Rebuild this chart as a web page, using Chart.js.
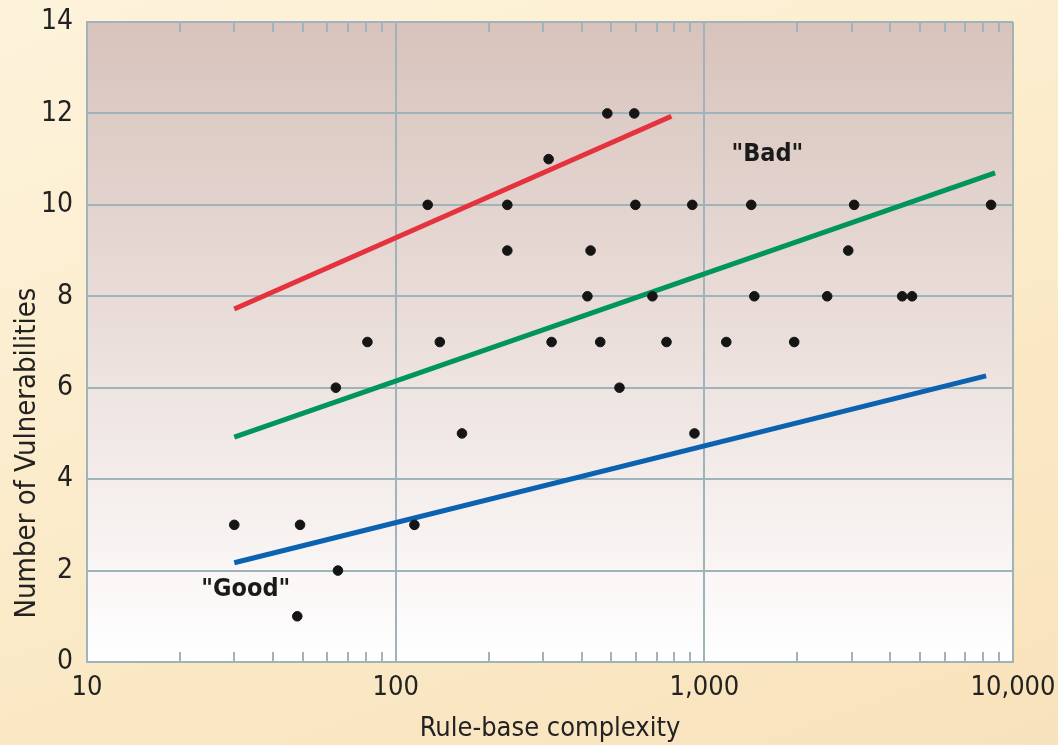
<!DOCTYPE html>
<html><head><meta charset="utf-8">
<script src="https://cdn.jsdelivr.net/npm/chart.js@4.4.0/dist/chart.umd.min.js"></script>
<style>
html,body{margin:0;padding:0;}
#wrap{width:1058px;height:745px;background:linear-gradient(160deg,#fdf3db 0%,#fbeac8 55%,#f8e2bb 100%);}
canvas{display:block;}
</style>
</head><body><div id="wrap"><canvas id="c" width="1058" height="745"></canvas></div>
<script>
const complexity = [30,49,48,65,64,81,115,127,139,164,230,230,313,320,418,428,460,485,531,593,598,679,754,914,929,1178,1419,1452,1955,2500,2926,3057,4375,4710,8490];
const vulnerabilities = [3,3,1,2,6,7,3,10,7,5,10,9,11,7,8,9,7,12,6,12,10,8,7,10,5,7,10,8,7,8,9,10,8,8,10];
const badLineX = [30, 782];
const badLineY = [7.72, 11.94];
const midLineX = [30, 8750];
const midLineY = [4.92, 10.7];
const goodLineX = [30, 8180];
const goodLineY = [2.17, 6.26];
const xMajorTicks = [10, 100, 1000, 10000];
const xMinorTicks = [20,30,40,50,60,70,80,90,200,300,400,500,600,700,800,900,2000,3000,4000,5000,6000,7000,8000,9000];
const yTicks = [0,2,4,6,8,10,12,14];
const labels = [{text:'"Bad"', x:1600, y:11.1}, {text:'"Good"', x:32.7, y:1.58}];
const yTitle = 'Number of Vulnerabilities';
const xTitle = 'Rule-base complexity';

const NARROW = "'Liberation Sans Narrow','Arial Narrow','DejaVu Sans Condensed',sans-serif";
const GRID = '#9fb3ba';

const toPts = (xs, ys) => xs.map((x, i) => ({x, y: ys[i]}));

const bgPlugin = {
  id: 'bg',
  beforeDraw(chart) {
    const {ctx, chartArea: a} = chart;
    const g = ctx.createLinearGradient(0, a.top, 0, a.bottom);
    g.addColorStop(0, '#d8c3bc');
    g.addColorStop(0.5, '#ebdfdb');
    g.addColorStop(1, '#ffffff');
    ctx.save();
    ctx.fillStyle = g;
    ctx.fillRect(a.left, a.top, a.right - a.left, a.bottom - a.top);
    ctx.restore();
  }
};

const minorPlugin = {
  id: 'minor',
  afterDraw(chart) {
    const {ctx, chartArea: a, scales} = chart;
    ctx.save();
    ctx.strokeStyle = GRID;
    ctx.lineWidth = 2;
    xMinorTicks.forEach(v => {
      const px = Math.round(scales.x.getPixelForValue(v));
      ctx.beginPath();
      ctx.moveTo(px, a.bottom); ctx.lineTo(px, a.bottom - 10);
      ctx.moveTo(px, a.top); ctx.lineTo(px, a.top + 10);
      ctx.stroke();
    });
    ctx.fillStyle = '#1a1a1a';
    ctx.font = "bold 25px " + NARROW;
    ctx.textAlign = 'center';
    ctx.textBaseline = 'middle';
    labels.forEach(l => {
      ctx.fillText(l.text, scales.x.getPixelForValue(l.x), scales.y.getPixelForValue(l.y));
    });
    // y axis title, placed as in the reference (lower than the plot centre)
    ctx.fillStyle = '#222';
    ctx.font = "29px " + NARROW;
    ctx.translate(27, a.bottom - 209);
    ctx.rotate(-Math.PI / 2);
    ctx.fillText(yTitle, 0, 0);
    ctx.restore();
  }
};

const lineDs = (xs, ys, color) => ({
  type: 'line', data: toPts(xs, ys), borderColor: color, borderWidth: 5,
  pointRadius: 0, fill: false, borderCapStyle: 'butt', order: 2
});

new Chart(document.getElementById('c'), {
  type: 'scatter',
  data: {
    datasets: [
      {data: toPts(complexity, vulnerabilities), backgroundColor: '#151515', borderColor: '#151515',
       pointRadius: 4.8, pointStyle: 'circle', order: 1},
      lineDs(badLineX, badLineY, '#e5323f'),
      lineDs(midLineX, midLineY, '#00955c'),
      lineDs(goodLineX, goodLineY, '#0a62b0')
    ]
  },
  options: {
    responsive: false,
    animation: false,
    layout: {padding: {left: 0, right: 45, top: 22, bottom: 0}},
    plugins: {legend: {display: false}, tooltip: {enabled: false}},
    scales: {
      x: {
        type: 'logarithmic', min: 10, max: 10000,
        afterBuildTicks(s) { s.ticks = xMajorTicks.map(v => ({value: v})); },
        afterFit(s) { s.height = 83; s.paddingLeft = 0; s.paddingRight = 0; },
        grid: {color: GRID, lineWidth: 2, drawTicks: false},
        border: {color: GRID, width: 2},
        ticks: {
          color: '#222', font: {family: NARROW, size: 27}, padding: 10, maxRotation: 0,
          callback: v => Number(v).toLocaleString('en-US')
        },
        title: {display: true, text: xTitle, color: '#222',
                font: {family: NARROW, size: 27}, padding: {top: 6, bottom: 0}}
      },
      y: {
        min: 0, max: 14,
        afterBuildTicks(s) { s.ticks = yTicks.map(v => ({value: v})); },
        afterFit(s) { s.width = 87; s.paddingTop = 0; s.paddingBottom = 0; },
        grid: {color: GRID, lineWidth: 2, drawTicks: false},
        border: {color: GRID, width: 2},
        ticks: {color: '#222', font: {family: NARROW, size: 28}, padding: 14},
        title: {display: false}
      }
    }
  },
  plugins: [bgPlugin, minorPlugin]
});
</script>
</body></html>
